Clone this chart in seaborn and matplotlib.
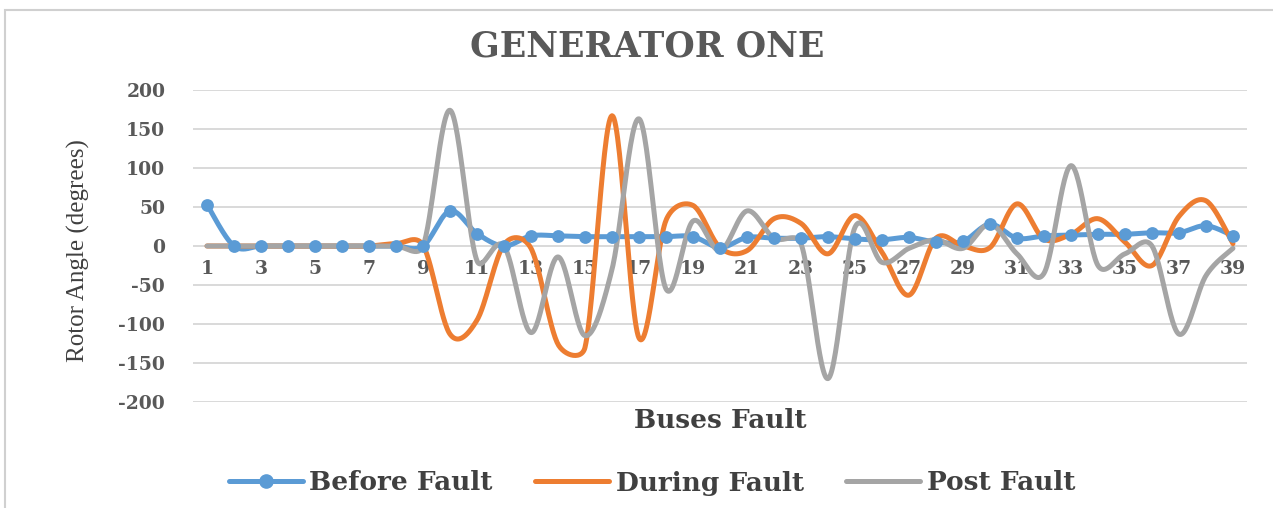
import numpy as np
import pandas as pd
import matplotlib
matplotlib.use("Agg")
import matplotlib.pyplot as plt
from matplotlib.lines import Line2D
from matplotlib.patches import Rectangle
import seaborn as sns

# ---------------- data ----------------
buses = list(range(1, 40))
before_fault = [53, 0, 0, 0, 0, 0, 0, 0, 0, 45, 16, 0, 13, 13, 12, 12, 12, 12, 12, -2,
                11, 10, 10, 12, 9, 8, 11, 5, 6, 28, 10, 13, 14, 15, 15, 17, 17, 26, 13]
during_fault = [0, 0, 0, 0, 0, 0, 0, 3, 1, -113, -95, 2, -3, -126, -130, 167, -118, 33, 52, -2,
                -6, 35, 29, -10, 39, -8, -63, 10, 0, -2, 54, 9, 15, 35, 5, -25, 38, 58, 3]
post_fault = [0, 0, 0, 0, 0, 0, 0, 0, 0, 174, -19, 0, -111, -14, -115, -30, 163, -55, 32, -6,
              45, 10, 3, -170, 24, -21, -3, 8, -3, 28, -10, -35, 103, -25, -10, 0, -113, -38, -3]
series_names = ["Before Fault", "During Fault", "Post Fault"]
y_ticks = [-200, -150, -100, -50, 0, 50, 100, 150, 200]
x_tick_labels = [str(b) for b in buses if b % 2 == 1]

colors = ["#5B9BD5", "#ED7D31", "#A5A5A5"]

W, H, DPI = 1273, 508, 100


def smooth(xv, yv, sx=27.0, sy=0.78, n=30):
    """Excel-style smoothed line: Bezier segments, tension 1/6, control
    offsets limited to half of the segment length (screen space)."""
    P = np.column_stack([np.asarray(xv, float) * sx, np.asarray(yv, float) * sy])
    m = len(P)
    out = [P[0]]
    for i in range(m - 1):
        p0, p1 = P[i], P[i + 1]
        prev = P[i - 1] if i > 0 else P[i]
        nxt = P[i + 2] if i + 2 < m else P[i + 1]
        seg = np.linalg.norm(p1 - p0)
        v1 = (p1 - prev) / 6.0
        v2 = (nxt - p0) / 6.0
        l1, l2 = np.linalg.norm(v1), np.linalg.norm(v2)
        if l1 > seg / 2:
            v1 = v1 * (seg / 2) / l1
        if l2 > seg / 2:
            v2 = v2 * (seg / 2) / l2
        c1 = p0 + v1
        c2 = p1 - v2
        t = np.linspace(0, 1, n)[1:, None]
        pts = ((1 - t) ** 3) * p0 + 3 * ((1 - t) ** 2) * t * c1 + 3 * (1 - t) * t ** 2 * c2 + t ** 3 * p1
        out.extend(pts)
    out = np.array(out)
    return out[:, 0] / sx, out[:, 1] / sy


sns.set_theme(style="white")
plt.rcParams["font.family"] = ["DejaVu Serif"]

fig = plt.figure(figsize=(W / DPI, H / DPI), dpi=DPI)
fig.patch.set_facecolor("white")

# outer chart frame
fig.patches.append(Rectangle((5 / W, -0.05), 1.2, 1 - 10 / H + 0.05, transform=fig.transFigure,
                             fill=False, edgecolor="#D0D0D0", linewidth=1.5, zorder=0))

ax = fig.add_axes([193 / W, 1 - 402 / H, (1247 - 193) / W, (402 - 90) / H])
ax.set_facecolor("none")

all_series = [before_fault, during_fault, post_fault]
for name, vals, col in zip(series_names, all_series, colors):
    xs, ys = smooth(buses, vals)
    df = pd.DataFrame({"bus": xs, "angle": ys})
    sns.lineplot(data=df, x="bus", y="angle", ax=ax, color=col, linewidth=3.6,
                 sort=False, estimator=None, legend=False, zorder=3 if name != "Before Fault" else 2)

sns.scatterplot(x=buses, y=before_fault, ax=ax, color=colors[0], s=85, edgecolor=colors[0],
                linewidth=0, zorder=4, legend=False)

ax.set_xlim(0.48, 39.52)
ax.set_ylim(-200, 200)
ax.set_yticks(y_ticks)
ax.set_yticklabels([str(v) for v in y_ticks])
ax.set_xticks([b for b in buses if b % 2 == 1])
ax.set_xticklabels(x_tick_labels)
ax.grid(axis="y", color="#D9D9D9", linewidth=1.4)
ax.grid(axis="x", visible=False)
ax.set_axisbelow(True)
for s in ["top", "right", "left"]:
    ax.spines[s].set_visible(False)
ax.spines["bottom"].set_position(("data", 0))
ax.spines["bottom"].set_visible(False)
ax.tick_params(axis="x", length=0, pad=10, labelsize=13.5, labelcolor="#595959")
ax.tick_params(axis="y", length=0, pad=20, labelsize=13.5, labelcolor="#595959")
for lab in ax.get_xticklabels() + ax.get_yticklabels():
    lab.set_fontweight("bold")
ax.set_xlabel("")
ax.set_ylabel("")

fig.text(647 / W, 1 - 46 / H, "GENERATOR ONE", ha="center", va="center",
         fontsize=25, fontweight="bold", color="#595959")
fig.text(78 / W, 1 - 251 / H, "Rotor Angle (degrees)", rotation=90, ha="center", va="center",
         fontsize=18, color="#404040", family=["Liberation Serif", "DejaVu Serif"])
fig.text(720 / W, 1 - 420 / H, "Buses Fault", ha="center", va="center",
         fontsize=19, fontweight="bold", color="#404040")

handles = [
    Line2D([0], [0], color=colors[0], lw=3.6, marker="o", markersize=9.5),
    Line2D([0], [0], color=colors[1], lw=3.6),
    Line2D([0], [0], color=colors[2], lw=3.6),
]
leg = fig.legend(handles, series_names, loc="center", bbox_to_anchor=(652 / W, 1 - 483 / H),
                 ncol=3, frameon=False, handlelength=2.8, handletextpad=0.25, columnspacing=1.6,
                 prop={"size": 19, "weight": "bold"})
for t in leg.get_texts():
    t.set_color("#404040")

fig.savefig("out.png", dpi=DPI, facecolor="white")
